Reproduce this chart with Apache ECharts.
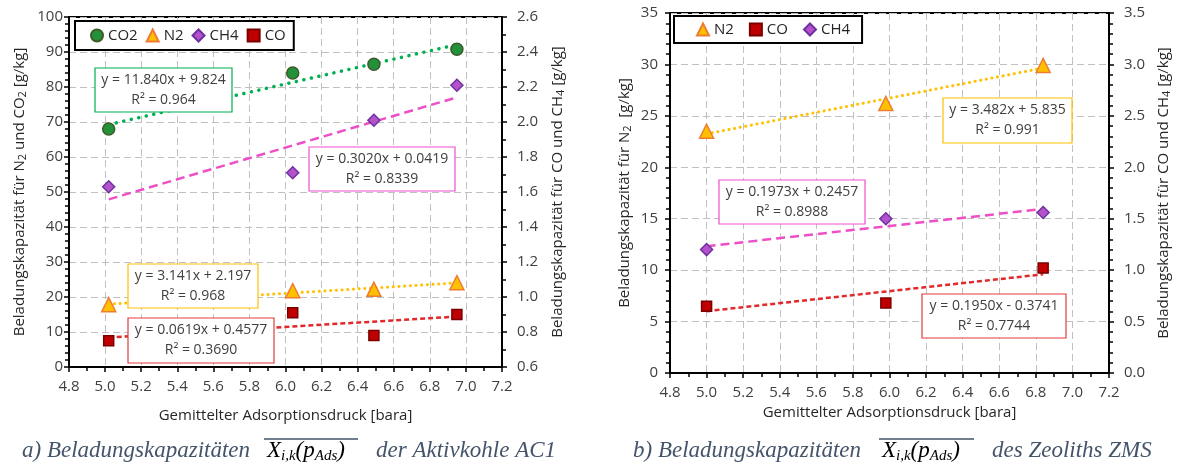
<!DOCTYPE html>
<html>
<head>
<meta charset="utf-8">
<title>Beladungskapazitäten AC1 / ZMS</title>
<script src="https://cdn.jsdelivr.net/npm/echarts@6/dist/echarts.min.js"></script>
<style>
  html, body { margin: 0; padding: 0; background: #ffffff; }
  #chart { width: 1178px; height: 470px; }
</style>
</head>
<body>
<div id="chart"></div>
<script>
// ---- Aktivkohle AC1: mean adsorption pressure [bara] and loadings ----
const acPressure = [5.02, 6.04, 6.49, 6.95];
const acCO2 = [68.0, 84.0, 86.5, 90.8];   // g/kg, left axis
const acN2  = [17.8, 21.8, 22.2, 24.1];   // g/kg, left axis
const acCH4 = [1.63, 1.71, 2.01, 2.21];   // g/kg, right axis
const acCO  = [0.75, 0.91, 0.78, 0.90];   // g/kg, right axis

// linear fits [slope, intercept, R²]
const acFitCO2 = ['11.840', '9.824', '0.964'];
const acFitN2  = ['3.141', '2.197', '0.968'];
const acFitCH4 = ['0.3020', '0.0419', '0.8339'];
const acFitCO  = ['0.0619', '0.4577', '0.3690'];

// ---- Zeolith ZMS ----
const zmsPressure = [5.00, 5.98, 6.84];
const zmsN2  = [23.5, 26.2, 29.9];        // g/kg, left axis
const zmsCO  = [0.65, 0.68, 1.02];        // g/kg, right axis
const zmsCH4 = [1.20, 1.50, 1.56];        // g/kg, right axis

const zmsFitN2  = ['3.482', '5.835', '0.991'];
const zmsFitCO  = ['0.1950', '-0.3741', '0.7744'];
const zmsFitCH4 = ['0.1973', '0.2457', '0.8988'];

// axis tick setup
const xTicks = { min: 4.8, max: 7.2, step: 0.2 };
const acLeftTicks  = { min: 0, max: 100, step: 10 };
const acRightTicks = { min: 0.6, max: 2.6, step: 0.2 };
const zmsLeftTicks  = { min: 0, max: 35, step: 5 };
const zmsRightTicks = { min: 0, max: 3.5, step: 0.5 };

const FONT = 'Open Sans';
const TXT = '#404040';
const GRIDLINE = '#c0c0c0';
const FS = 15;

const pairs = (xs, ys) => xs.map((x, i) => [x, ys[i]]);
const fitLine = (xs, fit) => {
  const a = Number(fit[0]), b = Number(fit[1]);
  const lo = Math.min(...xs), hi = Math.max(...xs);
  return [[lo, a * lo + b], [hi, a * hi + b]];
};
const fitText = fit => {
  const b = Number(fit[1]);
  const sign = b < 0 ? '-' : '+';
  const bAbs = fit[1].replace('-', '');
  return 'y = ' + fit[0] + 'x ' + sign + ' ' + bAbs + '\nR\u00b2 = ' + fit[2];
};

const subRich = {
  s: { fontSize: 11, fontFamily: FONT, color: '#262626', padding: [7, 0, 0, 0], lineHeight: 13 }
};

function xAxisCfg(grid, gap) {
  return {
    type: 'value', gridIndex: grid,
    min: xTicks.min, max: xTicks.max, interval: xTicks.step,
    name: 'Gemittelter Adsorptionsdruck [bara]',
    nameLocation: 'middle', nameGap: gap,
    nameTextStyle: { fontFamily: FONT, fontSize: FS, color: '#262626' },
    axisLine: { lineStyle: { color: '#000', width: 2 } },
    axisTick: { length: 5, lineStyle: { color: '#000', width: 1.5 } },
    minorTick: { show: true, splitNumber: 2, length: 4, lineStyle: { color: '#000', width: 1.5 } },
    axisLabel: { color: TXT, fontFamily: FONT, fontSize: FS, margin: 12,
      formatter: v => v.toFixed(1) },
    splitLine: { show: true, lineStyle: { color: GRIDLINE, type: [7, 4], width: 1 } }
  };
}

function yAxisCfg(grid, ticks, pos, name, gap, split, minorN, margin, dec) {
  return {
    type: 'value', gridIndex: grid, position: pos,
    min: ticks.min, max: ticks.max, interval: ticks.step,
    name: name, nameLocation: 'middle', nameRotate: 90, nameGap: gap,
    nameTextStyle: { fontFamily: FONT, fontSize: FS, color: '#262626', rich: subRich },
    axisLine: { show: true, lineStyle: { color: '#000', width: 2 } },
    axisTick: { show: true, length: 5, lineStyle: { color: '#000', width: 1.5 } },
    minorTick: { show: true, splitNumber: minorN, length: 4, lineStyle: { color: '#000', width: 1.5 } },
    axisLabel: { color: TXT, fontFamily: FONT, fontSize: FS, margin: margin,
      formatter: v => v.toFixed(dec) },
    splitLine: { show: split, lineStyle: { color: GRIDLINE, type: [7, 4], width: 1 } }
  };
}

// marker looks
const STY = {
  CO2: { symbol: 'circle', size: 12, color: '#22913a', border: '#3f5a2a' },
  N2:  { symbol: 'triangle', size: 14, color: '#ffc000', border: '#ed7d31' },
  CH4: { symbol: 'diamond', size: 12, color: '#b452cc', border: '#7030a0' },
  CO:  { symbol: 'rect', size: 10, color: '#c00000', border: '#7a0000' }
};
const TREND = {
  CO2: { color: '#00b050', width: 3.5, type: [0.1, 7.6], cap: 'round' },
  N2:  { color: '#ffc000', width: 3, type: [0.1, 5.6], cap: 'round' },
  CH4: { color: '#ec4fc6', width: 2.5, type: [9, 5], cap: 'butt' },
  CO:  { color: '#e02a2a', width: 2.5, type: [5, 3], cap: 'butt' }
};

function scatter(name, key, xi, yi, data) {
  const s = STY[key];
  return {
    name: name, type: 'scatter', xAxisIndex: xi, yAxisIndex: yi,
    symbol: s.symbol, symbolSize: s.size, z: 5,
    itemStyle: { color: s.color, borderColor: s.border, borderWidth: 1.5, opacity: 1 },
    data: data
  };
}
function trend(key, xi, yi, data) {
  const t = TREND[key];
  return {
    type: 'line', xAxisIndex: xi, yAxisIndex: yi, symbol: 'none', silent: true, z: 3,
    lineStyle: { color: t.color, width: t.width, type: t.type, cap: t.cap },
    data: data
  };
}

// equation boxes (drawn above the plot)
function eqBox(x, y, w, h, color, fit) {
  return [
    { type: 'rect', z: 100, shape: { x: x, y: y, width: w, height: h },
      style: { fill: '#ffffff', stroke: color, lineWidth: 1.2 } },
    { type: 'text', z: 101, x: x + w / 2, y: y + h / 2,
      style: { text: fitText(fit), fontFamily: FONT, fontSize: 14, fill: TXT,
        align: 'center', verticalAlign: 'middle', lineHeight: 20 } }
  ];
}

// figure captions
const CAP = '#44546a';
const capStyle = { fontFamily: 'Liberation Serif', fontStyle: 'italic', fontSize: 23, fill: CAP, verticalAlign: 'middle' };
const capRich = {
  m: { fontFamily: 'Liberation Serif', fontStyle: 'italic', fontSize: 23, color: CAP, lineHeight: 28 },
  s: { fontFamily: 'Liberation Serif', fontStyle: 'italic', fontSize: 15, color: CAP, lineHeight: 18, padding: [10, 0, 0, 0] }
};
function caption(x0, xOver, over, x2, lead, tail) {
  const yc = 451;
  return [
    { type: 'text', z: 50, x: x0, y: yc, style: Object.assign({ text: lead }, capStyle) },
    { type: 'line', z: 50, shape: { x1: xOver, y1: 439, x2: xOver + over, y2: 439 },
      style: { stroke: CAP, lineWidth: 1.5 } },
    { type: 'text', z: 50, x: xOver + 3, y: yc,
      style: { text: '{m|X}{s|i,k}{m|(p}{s|Ads}{m|)}', rich: capRich, verticalAlign: 'middle' } },
    { type: 'text', z: 50, x: x2, y: yc, style: Object.assign({ text: tail }, capStyle) }
  ];
}

const chart = echarts.init(document.getElementById('chart'), null, { renderer: 'canvas' });

const legendText = { fontFamily: FONT, fontSize: FS, color: '#262626' };

chart.setOption({
  backgroundColor: '#ffffff',
  animation: false,
  grid: [
    { left: 69, top: 17, width: 433, height: 350, show: true, borderColor: '#000', borderWidth: 2, backgroundColor: 'transparent' },
    { left: 670, top: 13, width: 439, height: 360, show: true, borderColor: '#000', borderWidth: 2, backgroundColor: 'transparent' }
  ],
  legend: [
    {
      data: ['AC1 CO2', 'AC1 N2', 'AC1 CH4', 'AC1 CO'],
      left: 75, top: 21, orient: 'horizontal',
      padding: [7, 8, 7, 15], itemGap: 8, itemWidth: 12, itemHeight: 12,
      borderColor: '#000', borderWidth: 2, backgroundColor: '#fff',
      textStyle: legendText,
      formatter: n => n.replace('AC1 ', ''),
      selectedMode: false
    },
    {
      data: ['ZMS N2', 'ZMS CO', 'ZMS CH4'],
      left: 674, top: 16, orient: 'horizontal',
      padding: [6, 12, 6, 22], itemGap: 15, itemWidth: 12, itemHeight: 12,
      borderColor: '#000', borderWidth: 2, backgroundColor: '#fff',
      textStyle: legendText,
      formatter: n => n.replace('ZMS ', ''),
      selectedMode: false
    }
  ],
  xAxis: [ xAxisCfg(0, 41), xAxisCfg(1, 31) ],
  yAxis: [
    yAxisCfg(0, acLeftTicks, 'left', 'Beladungskapazität für N{s|2} und CO{s|2} [g/kg]', 42, true, 5, 6, 0),
    yAxisCfg(0, acRightTicks, 'right', 'Beladungskapazität für CO und CH{s|4} [g/kg]', 48, false, 2, 15, 1),
    yAxisCfg(1, zmsLeftTicks, 'left', 'Beladungskapazität für N{s|2}  [g/kg]', 38, true, 5, 12, 0),
    yAxisCfg(1, zmsRightTicks, 'right', 'Beladungskapazität für CO und CH{s|4} [g/kg]', 47, false, 5, 15, 1)
  ],
  series: [
    trend('CO2', 0, 0, fitLine(acPressure, acFitCO2)),
    trend('N2', 0, 0, fitLine(acPressure, acFitN2)),
    trend('CH4', 0, 1, fitLine(acPressure, acFitCH4)),
    trend('CO', 0, 1, fitLine(acPressure, acFitCO)),
    scatter('AC1 CO2', 'CO2', 0, 0, pairs(acPressure, acCO2)),
    scatter('AC1 N2', 'N2', 0, 0, pairs(acPressure, acN2)),
    scatter('AC1 CH4', 'CH4', 0, 1, pairs(acPressure, acCH4)),
    scatter('AC1 CO', 'CO', 0, 1, pairs(acPressure, acCO)),

    trend('N2', 1, 2, fitLine(zmsPressure, zmsFitN2)),
    trend('CO', 1, 3, fitLine(zmsPressure, zmsFitCO)),
    trend('CH4', 1, 3, fitLine(zmsPressure, zmsFitCH4)),
    scatter('ZMS N2', 'N2', 1, 2, pairs(zmsPressure, zmsN2)),
    scatter('ZMS CO', 'CO', 1, 3, pairs(zmsPressure, zmsCO)),
    scatter('ZMS CH4', 'CH4', 1, 3, pairs(zmsPressure, zmsCH4))
  ],
  graphic: [
    ...eqBox(95, 68, 137, 44, '#00b050', acFitCO2),
    ...eqBox(309, 147, 146, 44, '#f04fd0', acFitCH4),
    ...eqBox(128, 264, 130, 44, '#ffc000', acFitN2),
    ...eqBox(128, 318, 146, 45, '#e03c3c', acFitCO),
    ...eqBox(943, 98, 129, 45, '#ffc000', zmsFitN2),
    ...eqBox(719, 180, 146, 44, '#f04fd0', zmsFitCH4),
    ...eqBox(922, 294, 144, 44, '#e03c3c', zmsFitCO),
    ...caption(22, 264, 94, 376, 'a) Beladungskapazitäten', 'der Aktivkohle AC1'),
    ...caption(633, 879, 95, 992, 'b) Beladungskapazitäten', 'des Zeoliths ZMS')
  ]
});
</script>
</body>
</html>
